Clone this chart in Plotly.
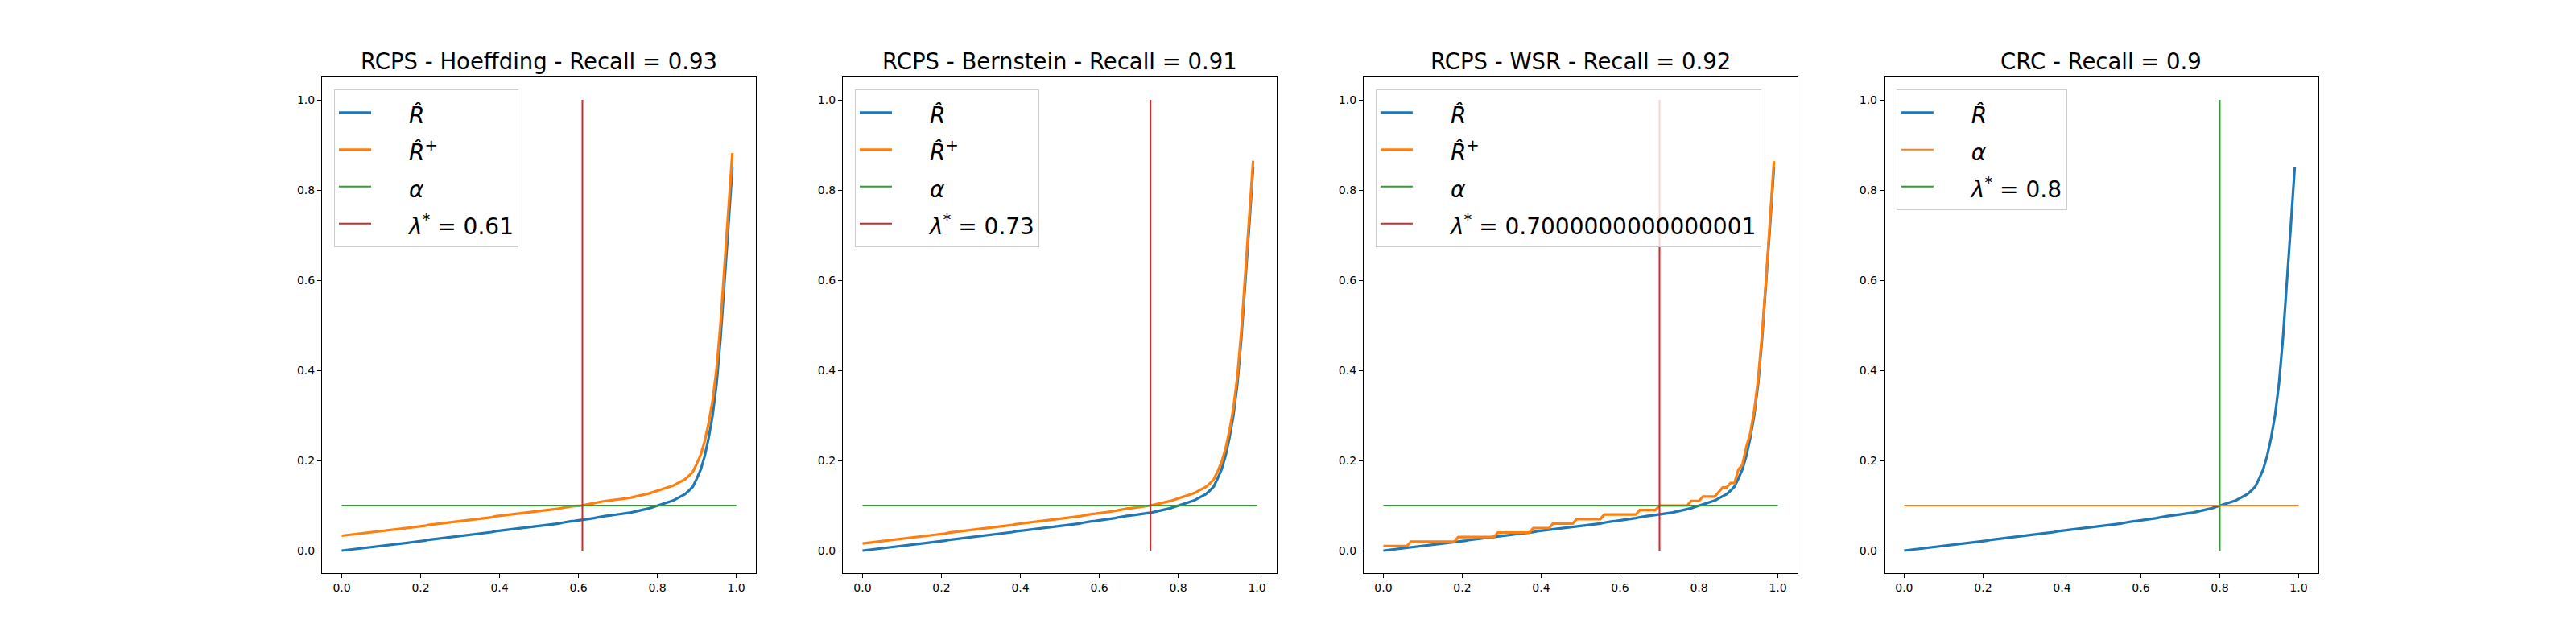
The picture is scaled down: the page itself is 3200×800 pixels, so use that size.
import plotly.graph_objects as go

# ---------------- data ----------------
LAMBDAS = [round(i / 100, 2) for i in range(100)]  # 0.00 .. 0.99 grid of lambda values

R_HAT = [
    0.000, 0.001, 0.002, 0.003, 0.005, 0.006, 0.006, 0.007, 0.008, 0.010,
    0.011, 0.012, 0.013, 0.013, 0.014, 0.015, 0.016, 0.018, 0.019, 0.020,
    0.021, 0.022, 0.024, 0.025, 0.026, 0.027, 0.028, 0.029, 0.030, 0.031,
    0.032, 0.033, 0.034, 0.035, 0.036, 0.037, 0.038, 0.040, 0.041, 0.043,
    0.044, 0.045, 0.046, 0.047, 0.048, 0.049, 0.050, 0.051, 0.052, 0.053,
    0.055, 0.056, 0.057, 0.058, 0.059, 0.060, 0.062, 0.064, 0.065, 0.066,
    0.067, 0.068, 0.069, 0.071, 0.072, 0.074, 0.076, 0.077, 0.078, 0.079,
    0.080, 0.081, 0.082, 0.084, 0.086, 0.088, 0.089, 0.091, 0.094, 0.097,
    0.100, 0.103, 0.106, 0.109, 0.111, 0.116, 0.121, 0.125, 0.133, 0.142,
    0.160, 0.180, 0.210, 0.250, 0.300, 0.370, 0.470, 0.590, 0.720, 0.850,
]

R_PLUS_HOEFFDING = [
    0.033, 0.034, 0.035, 0.036, 0.038, 0.039, 0.039, 0.040, 0.041, 0.043,
    0.044, 0.045, 0.046, 0.046, 0.047, 0.048, 0.049, 0.051, 0.052, 0.053,
    0.054, 0.055, 0.057, 0.058, 0.059, 0.060, 0.061, 0.062, 0.063, 0.064,
    0.065, 0.066, 0.067, 0.068, 0.069, 0.070, 0.071, 0.073, 0.074, 0.076,
    0.077, 0.078, 0.079, 0.080, 0.081, 0.082, 0.083, 0.084, 0.085, 0.086,
    0.088, 0.089, 0.090, 0.091, 0.092, 0.093, 0.095, 0.097, 0.098, 0.099,
    0.099, 0.100, 0.102, 0.104, 0.105, 0.107, 0.109, 0.110, 0.111, 0.112,
    0.113, 0.114, 0.115, 0.117, 0.119, 0.121, 0.122, 0.124, 0.127, 0.130,
    0.133, 0.136, 0.139, 0.142, 0.144, 0.149, 0.154, 0.158, 0.166, 0.175,
    0.193, 0.213, 0.243, 0.283, 0.333, 0.403, 0.503, 0.623, 0.753, 0.882,
]

R_PLUS_BERNSTEIN = [
    0.016, 0.017, 0.018, 0.019, 0.021, 0.022, 0.022, 0.023, 0.024, 0.026,
    0.027, 0.028, 0.029, 0.029, 0.030, 0.031, 0.032, 0.034, 0.035, 0.036,
    0.037, 0.038, 0.040, 0.041, 0.042, 0.043, 0.044, 0.045, 0.046, 0.047,
    0.048, 0.049, 0.050, 0.051, 0.052, 0.053, 0.054, 0.056, 0.057, 0.059,
    0.060, 0.061, 0.062, 0.063, 0.064, 0.065, 0.066, 0.067, 0.068, 0.069,
    0.071, 0.072, 0.073, 0.074, 0.075, 0.076, 0.078, 0.080, 0.081, 0.082,
    0.083, 0.084, 0.085, 0.087, 0.088, 0.090, 0.092, 0.093, 0.094, 0.095,
    0.096, 0.097, 0.098, 0.100, 0.102, 0.104, 0.105, 0.107, 0.110, 0.113,
    0.116, 0.119, 0.122, 0.125, 0.127, 0.132, 0.137, 0.141, 0.149, 0.158,
    0.176, 0.196, 0.226, 0.266, 0.316, 0.386, 0.486, 0.606, 0.736, 0.865,
]

R_PLUS_WSR = [
    0.01, 0.01, 0.01, 0.01, 0.01, 0.01, 0.01, 0.02, 0.02, 0.02,
    0.02, 0.02, 0.02, 0.02, 0.02, 0.02, 0.02, 0.02, 0.02, 0.03,
    0.03, 0.03, 0.03, 0.03, 0.03, 0.03, 0.03, 0.03, 0.03, 0.04,
    0.04, 0.04, 0.04, 0.04, 0.04, 0.04, 0.04, 0.04, 0.05, 0.05,
    0.05, 0.05, 0.05, 0.06, 0.06, 0.06, 0.06, 0.06, 0.06, 0.07,
    0.07, 0.07, 0.07, 0.07, 0.07, 0.07, 0.08, 0.08, 0.08, 0.08,
    0.08, 0.08, 0.08, 0.08, 0.08, 0.09, 0.09, 0.09, 0.09, 0.09,
    0.10, 0.10, 0.10, 0.10, 0.10, 0.10, 0.10, 0.10, 0.11, 0.11,
    0.11, 0.12, 0.12, 0.12, 0.12, 0.13, 0.14, 0.14, 0.15, 0.15,
    0.18, 0.19, 0.23, 0.26, 0.31, 0.38, 0.48, 0.60, 0.73, 0.864,
]

ALPHA = 0.1
ALPHA_X = [0.0, 1.0]
VLINE_Y = [0.0, 1.0]

TITLES = [
    "RCPS - Hoeffding - Recall = 0.93",
    "RCPS - Bernstein - Recall = 0.91",
    "RCPS - WSR - Recall = 0.92",
    "CRC - Recall = 0.9",
]
LAMBDA_STAR = [0.61, 0.73, 0.7000000000000001, 0.8]
LAMBDA_LABELS = ["0.61", "0.73", "0.7000000000000001", "0.8"]
UPPER_BOUNDS = [R_PLUS_HOEFFDING, R_PLUS_BERNSTEIN, R_PLUS_WSR, None]

TICKS = [0.0, 0.2, 0.4, 0.6, 0.8, 1.0]

# ---------------- style ----------------
BLUE, ORANGE, GREEN, RED = "#1f77b4", "#ff7f0e", "#2ca02c", "#d62728"
FONT = "DejaVu Sans"
W, H = 3200, 800
AX_W = 0.775 / 4.6
AX_STEP = AX_W * 1.2
Y_DOM = [0.11, 0.88]
THICK, THIN = 3.2, 2.0
LEG_ROW_FONT = 33   # sets legend row spacing
LEG_TEXT_PX = 28    # actual label size


def lbl(s):
    return f'\u00a0\u00a0\u00a0\u00a0<span style="font-size:{LEG_TEXT_PX}px">{s}</span>'


fig = go.Figure()

for i in range(4):
    xa = "x" if i == 0 else f"x{i+1}"
    ya = "y" if i == 0 else f"y{i+1}"
    leg = "legend" if i == 0 else f"legend{i+1}"
    if i < 3:
        c_alpha, c_lam = GREEN, RED
    else:
        c_alpha, c_lam = ORANGE, GREEN

    fig.add_trace(go.Scatter(x=LAMBDAS, y=R_HAT, mode="lines",
                             line=dict(color=BLUE, width=THICK),
                             name=lbl("<i>R̂</i>"), xaxis=xa, yaxis=ya, legend=leg))
    if UPPER_BOUNDS[i] is not None:
        fig.add_trace(go.Scatter(x=LAMBDAS, y=UPPER_BOUNDS[i], mode="lines",
                                 line=dict(color=ORANGE, width=THICK),
                                 name=lbl("<i>R̂</i><sup>+</sup>"), xaxis=xa, yaxis=ya,
                                 legend=leg))
    fig.add_trace(go.Scatter(x=ALPHA_X, y=[ALPHA, ALPHA], mode="lines",
                             line=dict(color=c_alpha, width=THIN),
                             name=lbl("<i>α</i>"), xaxis=xa, yaxis=ya, legend=leg))
    fig.add_trace(go.Scatter(x=[LAMBDA_STAR[i], LAMBDA_STAR[i]], y=VLINE_Y, mode="lines",
                             line=dict(color=c_lam, width=THIN),
                             name=lbl(f"<i>λ</i><sup>*</sup> = {LAMBDA_LABELS[i]}"),
                             xaxis=xa, yaxis=ya, legend=leg))

    left = 0.125 + i * AX_STEP
    axis_common = dict(range=[-0.05, 1.05], showgrid=False, zeroline=False,
                       showline=True, linecolor="black", linewidth=1.1, mirror=True,
                       ticks="outside", ticklen=5, tickwidth=1.1, tickcolor="black",
                       tickvals=TICKS, tickformat=".1f",
                       tickfont=dict(family=FONT, size=14, color="black"))
    fig.update_layout(**{
        ("xaxis" if i == 0 else f"xaxis{i+1}"): dict(domain=[left, left + AX_W],
                                                      anchor=ya, **axis_common),
        ("yaxis" if i == 0 else f"yaxis{i+1}"): dict(domain=Y_DOM, anchor=xa,
                                                      **axis_common),
        leg: dict(x=left + 15 / W, y=Y_DOM[1] - 15 / H, xanchor="left", yanchor="top",
                  bgcolor="rgba(255,255,255,0.8)", bordercolor="#cccccc", borderwidth=1,
                  font=dict(family=FONT, size=LEG_ROW_FONT, color="black"),
                  itemwidth=40, tracegroupgap=0),
    })
    fig.add_annotation(text=TITLES[i], x=left + AX_W / 2, y=Y_DOM[1] + 2 / H,
                       xref="paper", yref="paper", xanchor="center", yanchor="bottom",
                       showarrow=False, font=dict(family=FONT, size=27.5, color="black"))

fig.update_layout(width=W, height=H, margin=dict(l=0, r=0, t=0, b=0),
                  paper_bgcolor="white", plot_bgcolor="white", showlegend=True)

fig.write_html("out.html")
